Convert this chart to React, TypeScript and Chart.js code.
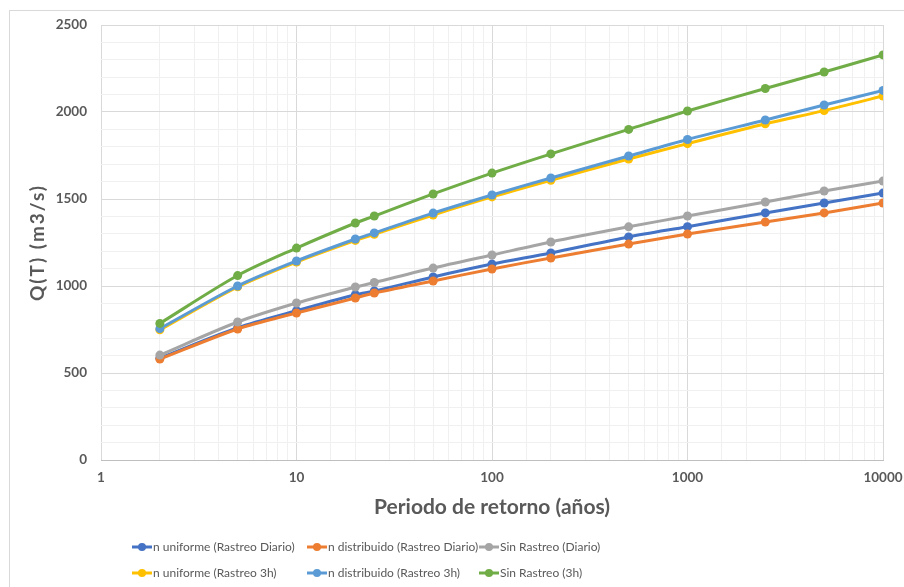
import React, { useEffect, useRef } from "react";
import { Chart, registerables } from "chart.js";

Chart.register(...registerables);

// Return periods (years)
const periods = [2, 5, 10, 20, 25, 50, 100, 200, 500, 1000, 2500, 5000, 10000];

// Peak discharge Q(T) in m3/s for each scenario
const nUniformeDiario = [585, 760, 858, 950, 971, 1052, 1126, 1190, 1282, 1341, 1420, 1477, 1534];
const nDistribuidoDiario = [580, 753, 845, 931, 960, 1029, 1098, 1161, 1241, 1299, 1368, 1420, 1477];
const sinRastreoDiario = [603, 793, 902, 994, 1020, 1103, 1178, 1253, 1340, 1402, 1483, 1546, 1603];
const nUniforme3h = [748, 995, 1138, 1262, 1297, 1408, 1512, 1608, 1730, 1818, 1932, 2008, 2092];
const nDistribuido3h = [755, 1000, 1144, 1270, 1305, 1419, 1523, 1621, 1747, 1842, 1954, 2040, 2124];
const sinRastreo3h = [785, 1060, 1218, 1362, 1402, 1529, 1649, 1759, 1900, 2006, 2135, 2230, 2328];

const seriesLabels = [
  "n uniforme (Rastreo Diario)",
  "n distribuido (Rastreo Diario)",
  "Sin Rastreo (Diario)",
  "n uniforme (Rastreo 3h)",
  "n distribuido (Rastreo 3h)",
  "Sin Rastreo (3h)",
];
const seriesValues = [
  nUniformeDiario,
  nDistribuidoDiario,
  sinRastreoDiario,
  nUniforme3h,
  nDistribuido3h,
  sinRastreo3h,
];
const seriesColors = ["#4472C4", "#ED7D31", "#A5A5A5", "#FFC000", "#5B9BD5", "#70AD47"];

const yTitle = "Q(T) (m3/s)";
const xTitle = "Periodo de retorno (años)";

const FONT = "Lato, 'Noto Sans', sans-serif";
const TEXT = "#595959";

const isPow10 = (v: number) => {
  const l = Math.log10(v);
  return Math.abs(l - Math.round(l)) < 1e-9;
};

// Axis titles drawn centred on the plot area
const axisTitlesPlugin = {
  id: "axisTitles",
  afterDraw(chart: any) {
    const { ctx, chartArea } = chart;
    ctx.save();
    ctx.fillStyle = TEXT;
    ctx.textAlign = "center";
    ctx.textBaseline = "middle";
    ctx.font = `bold 19px ${FONT}`;
    (ctx as any).letterSpacing = "2px";
    ctx.translate(38, (chartArea.top + chartArea.bottom) / 2);
    ctx.rotate(-Math.PI / 2);
    ctx.fillText(yTitle, 0, 0);
    ctx.restore();

    ctx.save();
    ctx.fillStyle = TEXT;
    ctx.textAlign = "center";
    ctx.textBaseline = "middle";
    ctx.font = `bold 21px ${FONT}`;
    ctx.fillText(xTitle, (chartArea.left + chartArea.right) / 2, 507);
    ctx.restore();
  },
};

// Two-row legend with aligned columns, line + marker symbols
const gridLegendPlugin = {
  id: "gridLegend",
  afterDraw(chart: any) {
    const { ctx } = chart;
    const cols = [132, 307, 479];
    const rows = [547, 573];
    chart.data.datasets.forEach((ds: any, i: number) => {
      const x = cols[i % 3];
      const y = rows[Math.floor(i / 3)];
      ctx.save();
      ctx.strokeStyle = ds.borderColor;
      ctx.fillStyle = ds.borderColor;
      ctx.lineWidth = 3;
      ctx.beginPath();
      ctx.moveTo(x, y);
      ctx.lineTo(x + 20, y);
      ctx.stroke();
      ctx.beginPath();
      ctx.arc(x + 10, y, 4, 0, Math.PI * 2);
      ctx.fill();
      ctx.fillStyle = TEXT;
      ctx.font = `12px ${FONT}`;
      ctx.textAlign = "left";
      ctx.textBaseline = "middle";
      ctx.fillText(ds.label, x + 21, y);
      ctx.restore();
    });
  },
};

export default function App() {
  const canvasRef = useRef<HTMLCanvasElement | null>(null);

  useEffect(() => {
    const canvas = canvasRef.current;
    if (!canvas) return;

    const datasets = seriesLabels.map((label, i) => ({
      label,
      data: periods.map((t, j) => ({ x: t, y: seriesValues[i][j] })),
      borderColor: seriesColors[i],
      backgroundColor: seriesColors[i],
      borderWidth: 3,
      pointRadius: 4.5,
      pointBorderWidth: 0,
      pointBackgroundColor: seriesColors[i],
      tension: 0.3,
      order: seriesLabels.length - i,
    }));

    const chart = new Chart(canvas, {
      type: "line",
      data: { datasets },
      options: {
        responsive: false,
        animation: false,
        devicePixelRatio: 1,
        layout: { padding: { left: 0, right: 21, top: 25, bottom: 97 } },
        plugins: {
          legend: { display: false },
          tooltip: { enabled: false },
        },
        scales: {
          x: {
            type: "logarithmic",
            min: 1,
            max: 10000,
            afterFit: (scale: any) => {
              scale.height = 30;
              scale.paddingLeft = 0;
              scale.paddingRight = 0;
            },
            grid: {
              drawTicks: false,
              color: (c: any) => (c.tick && isPow10(c.tick.value) ? "#d9d9d9" : "#f0f0f0"),
            },
            border: { display: true, color: "#bfbfbf", width: 1 },
            ticks: {
              autoSkip: false,
              maxRotation: 0,
              padding: 10,
              color: TEXT,
              font: { family: FONT, size: 13.5, weight: "bold" },
              callback: (v: any) => (isPow10(Number(v)) ? String(Math.round(Number(v))) : ""),
            },
          },
          y: {
            type: "linear",
            min: 0,
            max: 2500,
            afterFit: (scale: any) => {
              scale.width = 101;
              scale.paddingTop = 0;
              scale.paddingBottom = 0;
            },
            grid: {
              drawTicks: false,
              color: (c: any) => (c.tick && c.tick.value % 500 === 0 ? "#d9d9d9" : "#f0f0f0"),
            },
            border: { display: false },
            ticks: {
              stepSize: 100,
              autoSkip: false,
              padding: 14,
              color: TEXT,
              font: { family: FONT, size: 13.5, weight: "bold" },
              callback: (v: any) => (Number(v) % 500 === 0 ? String(v) : ""),
            },
          },
        },
      },
      plugins: [axisTitlesPlugin, gridLegendPlugin],
    });

    return () => chart.destroy();
  }, []);

  return (
    <div
      style={{
        position: "absolute",
        left: 0,
        top: 0,
        width: 904,
        height: 587,
        background: "#ffffff",
        overflow: "hidden",
      }}
    >
      <div
        style={{
          position: "absolute",
          left: 9,
          top: 10,
          width: 920,
          height: 600,
          borderTop: "1px solid #d9d9d9",
          borderLeft: "1px solid #d9d9d9",
        }}
      />
      <canvas
        ref={canvasRef}
        width={904}
        height={587}
        style={{ position: "absolute", left: 0, top: 0, width: 904, height: 587 }}
      />
    </div>
  );
}
